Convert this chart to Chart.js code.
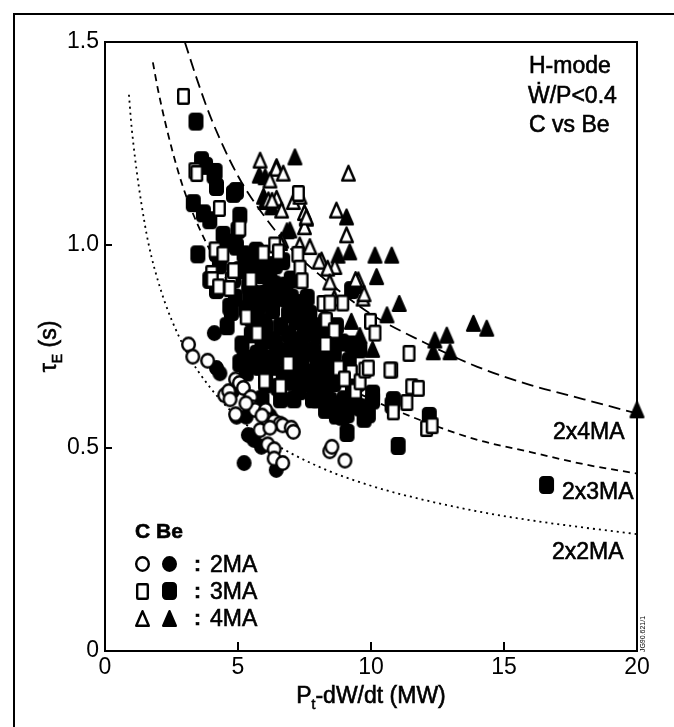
<!DOCTYPE html>
<html>
<head>
<meta charset="utf-8">
<title>tau_E vs P</title>
<script src="https://cdn.jsdelivr.net/npm/chart.js@4.4.0/dist/chart.umd.min.js"></script>
<style>
  html, body { margin: 0; padding: 0; background: #fff; }
  canvas { display: block; }
</style>
</head>
<body>
<canvas id="tauChart" width="674" height="727"></canvas>
<script>
// axis ticks
const xTickValues = [0, 5, 10, 15, 20];
const xTickLabels = ['0', '5', '10', '15', '20'];
const yTickValues = [0, 0.5, 1.0, 1.5];
const yTickLabels = ['0', '0.5', '1.0', '1.5'];

// scaling curves
const curve4X = [3.0, 3.5, 4, 5, 6, 7, 8, 10, 12, 14, 16, 18, 20];
const curve4Y = [1.50, 1.40, 1.31, 1.17, 1.07, 0.99, 0.93, 0.83, 0.76, 0.70, 0.655, 0.62, 0.585];
const curve3X = [1.8, 2, 2.5, 3, 4, 5, 6, 8, 10, 12, 14, 16, 18, 20];
const curve3Y = [1.45, 1.38, 1.24, 1.13, 0.98, 0.875, 0.80, 0.69, 0.62, 0.565, 0.52, 0.49, 0.46, 0.437];
const curve2X = [0.9, 1, 1.5, 2, 3, 4, 5, 6, 8, 10, 12, 14, 16, 18, 20];
const curve2Y = [1.37, 1.29, 1.05, 0.91, 0.745, 0.645, 0.575, 0.525, 0.455, 0.407, 0.372, 0.344, 0.322, 0.304, 0.288];

// C, 2MA (open circles)
const c2X = [3.14, 3.30, 3.86, 4.50, 4.65, 4.70, 4.91, 5.05, 5.20, 5.48, 4.91, 5.57, 5.64, 6.04, 6.08, 6.36,
  6.58, 6.68, 7.00, 7.08, 5.83, 6.12, 6.36, 6.36, 6.68, 8.45, 8.53, 9.02, 5.30, 5.90, 6.20];
const c2Y = [0.755, 0.725, 0.715, 0.630, 0.640, 0.620, 0.669, 0.660, 0.648, 0.625, 0.583, 0.600, 0.594, 0.594, 0.570, 0.566,
  0.560, 0.556, 0.550, 0.540, 0.544, 0.509, 0.497, 0.474, 0.463, 0.492, 0.503, 0.469, 0.610, 0.580, 0.550];

// Be, 2MA (filled circles)
const be2X = [4.11, 4.19, 4.32, 4.95, 5.31, 5.39, 5.88, 6.44, 5.23, 4.80, 5.60, 6.20];
const be2Y = [0.783, 0.697, 0.684, 0.577, 0.577, 0.532, 0.503, 0.446, 0.463, 0.640, 0.520, 0.580];

// C, 3MA (open squares)
const c3X = [2.95, 3.38, 4.30, 3.45, 5.07, 4.14, 4.43, 6.38, 6.52, 4.01, 4.75, 4.69, 4.03, 4.27, 4.83, 5.48,
  5.31, 5.72, 6.60, 7.25, 7.27, 7.33, 7.41, 8.20, 8.32, 8.45, 8.94, 8.62, 8.29, 8.78, 9.26, 9.00,
  9.42, 9.59, 9.77, 9.90, 9.98, 10.15, 10.78, 10.71, 11.43, 11.53, 11.78, 11.35, 10.84, 12.09, 12.30, 6.89,
  6.00, 5.95];
const c3Y = [1.366, 1.183, 1.090, 1.176, 1.041, 0.988, 0.977, 1.000, 0.983, 0.930, 0.914, 0.893, 0.915, 0.897, 0.937, 0.915,
  0.823, 0.783, 0.652, 0.977, 1.127, 0.943, 0.912, 0.856, 0.815, 0.857, 0.857, 0.789, 0.755, 0.697, 0.686, 0.670,
  0.640, 0.663, 0.692, 0.697, 0.812, 0.783, 0.692, 0.692, 0.733, 0.651, 0.647, 0.612, 0.589, 0.548, 0.555, 0.708,
  0.665, 0.980];

// Be, 3MA (filled squares)
const be3X = [3.42, 3.63, 4.14, 3.78, 4.10, 4.19, 4.83, 4.94, 3.32, 3.70, 3.94, 5.07, 5.00, 4.44, 4.59, 3.49,
  4.19, 5.69, 5.23, 4.94, 3.94, 5.07, 4.19, 4.69, 5.45, 4.83, 5.56, 5.88, 6.20, 4.75, 4.59, 5.15,
  5.23, 6.04, 5.72, 6.20, 6.04, 6.68, 6.36, 7.00, 6.76, 7.33, 7.17, 7.65, 7.97, 8.29, 7.33, 6.52,
  7.17, 7.49, 7.65, 7.97, 8.29, 7.00, 8.05, 8.45, 8.78, 8.29, 10.06, 9.90, 9.10, 9.42, 8.94, 9.10,
  10.06, 9.18, 9.26, 9.58, 8.62, 9.27, 10.79, 10.84, 12.19, 11.02, 16.60, 9.74, 5.07, 5.31, 6.04,
  5.50, 5.80, 6.00, 6.30, 6.60, 6.90, 7.20, 6.50, 6.90, 7.50, 7.80, 8.10, 8.40, 7.40, 6.80, 6.30,
  5.90, 5.50, 5.40, 6.10, 7.70, 8.00, 8.60, 7.10, 6.60, 5.90, 5.50, 6.20, 7.00, 7.60, 8.70, 8.90,
  5.30, 4.90, 4.30, 5.30, 7.30, 7.80, 8.30, 8.60, 9.00, 7.60, 8.90, 9.50, 7.90, 8.40, 9.60, 8.70,
  9.30, 6.10, 6.40, 6.70, 6.90, 7.30, 5.80, 6.50, 7.20, 5.60, 6.80, 7.20, 6.40, 5.90, 7.40, 8.00,
  8.30];
const be3Y = [1.304, 1.209, 1.180, 1.195, 1.172, 1.143, 1.126, 1.133, 1.103, 1.078, 1.061, 1.072, 1.037, 1.025, 1.006, 0.977,
  0.980, 0.986, 0.977, 0.996, 0.914, 0.938, 0.889, 0.848, 0.873, 0.915, 0.949, 0.926, 0.915, 0.835, 0.800, 0.755,
  0.720, 0.675, 0.732, 0.766, 0.800, 0.960, 0.903, 0.915, 0.869, 0.857, 0.812, 0.800, 0.777, 0.812, 0.766, 0.732,
  0.697, 0.732, 0.686, 0.709, 0.732, 0.663, 0.652, 0.617, 0.606, 0.594, 0.617, 0.583, 0.583, 0.606, 0.577, 0.537,
  0.634, 0.714, 0.755, 0.743, 0.732, 0.889, 0.606, 0.618, 0.579, 0.505, 0.409, 0.572, 0.709, 0.686, 0.657,
  0.820, 0.850, 0.880, 0.840, 0.800, 0.780, 0.750, 0.880, 0.830, 0.780, 0.740, 0.700, 0.670, 0.700, 0.720, 0.700,
  0.760, 0.780, 0.900, 0.950, 0.830, 0.620, 0.660, 0.620, 0.620, 0.620, 0.720, 0.870, 0.870, 0.870, 0.800, 0.760,
  0.960, 0.870, 0.950, 0.840, 0.640, 0.620, 0.650, 0.700, 0.620, 0.660, 0.690, 0.660, 0.670, 0.750, 0.600, 0.580,
  0.650, 0.720, 0.760, 0.680, 0.740, 0.710, 0.700, 0.650, 0.670, 0.880, 0.900, 0.840, 0.950, 0.810, 0.810, 0.800,
  0.780];

// C, 4MA (open triangles)
const c4X = [5.83, 6.44, 6.70, 6.14, 6.45, 6.64, 7.08, 7.50, 7.50, 8.70, 9.08, 9.15, 6.64, 7.32, 7.70, 8.14,
  8.64, 9.52, 9.70, 8.05, 8.37, 8.45, 8.62, 9.42, 9.74, 6.60, 6.28, 7.33, 7.57, 6.20];
const c4Y = [1.209, 1.189, 1.177, 1.111, 1.115, 1.086, 1.107, 1.080, 1.045, 1.086, 1.025, 1.177, 1.012, 1.000, 0.996, 0.963,
  0.947, 0.914, 0.869, 0.960, 0.943, 0.909, 0.869, 0.915, 0.880, 1.006, 1.110, 1.120, 1.069, 1.160];

// Be, 4MA (filled triangles)
const be4X = [7.14, 5.80, 6.02, 6.45, 6.02, 6.27, 7.57, 9.08, 6.95, 8.76, 9.20, 10.15, 10.78, 10.21, 11.06, 10.60,
  9.45, 12.40, 12.85, 12.34, 12.97, 13.85, 14.35, 20.00, 9.26, 9.58, 10.06, 5.96, 6.84];
const be4Y = [1.217, 1.172, 1.168, 1.193, 1.107, 1.094, 1.066, 1.069, 1.037, 0.975, 0.983, 0.975, 0.975, 0.922, 0.856, 0.828,
  0.900, 0.766, 0.778, 0.737, 0.737, 0.807, 0.795, 0.594, 0.812, 0.777, 0.743, 1.120, 1.035];

const FONT = '"Liberation Sans", Arial, Helvetica, "DejaVu Sans", sans-serif';

function pairs(xs, ys) {
  return xs.map((x, i) => ({ x: x, y: ys[i] }));
}

// marker bitmaps, used as point styles
function makeMarker(shape, filled) {
  let w = 15, h = 16;
  if (shape === 'square') { w = filled ? 15 : 13; h = filled ? 18 : 17; }
  if (shape === 'triangle') { w = 15; h = 17; }
  const c = document.createElement('canvas');
  c.width = w + 2;
  c.height = h + 2;
  const g = c.getContext('2d');
  const cx = c.width / 2, cy = c.height / 2;
  g.lineWidth = 2.4;
  g.lineJoin = 'round';
  g.strokeStyle = '#000';
  g.fillStyle = filled ? '#000' : '#fff';
  g.beginPath();
  if (shape === 'circle') {
    g.ellipse(cx, cy, w / 2 - 1.2, h / 2 - 1.2, 0, 0, Math.PI * 2);
  } else if (shape === 'square') {
    g.roundRect(cx - w / 2 + 1.2, cy - h / 2 + 1.2, w - 2.4, h - 2.4, filled ? 3 : 1);
  } else {
    g.moveTo(cx, cy - h / 2 + 1.2);
    g.lineTo(cx + w / 2 - 1.2, cy + h / 2 - 1.2);
    g.lineTo(cx - w / 2 + 1.2, cy + h / 2 - 1.2);
    g.closePath();
  }
  g.fill();
  g.stroke();
  return c;
}

const markers = {
  c2: makeMarker('circle', false),
  be2: makeMarker('circle', true),
  c3: makeMarker('square', false),
  be3: makeMarker('square', true),
  c4: makeMarker('triangle', false),
  be4: makeMarker('triangle', true)
};

function pointSet(label, xs, ys, marker) {
  return {
    label: label,
    data: pairs(xs, ys),
    pointStyle: marker,
    pointRadius: 7,
    pointHoverRadius: 7,
    clip: false
  };
}

function curveSet(label, xs, ys, dash) {
  return {
    label: label,
    data: pairs(xs, ys),
    showLine: true,
    pointRadius: 0,
    borderColor: '#000',
    borderWidth: 1.8,
    borderDash: dash,
    cubicInterpolationMode: 'monotone',
    fill: false
  };
}

// text with a slight stroke, to get the heavier printed look
function inkText(ctx, text, x, y) {
  ctx.fillText(text, x, y);
  ctx.strokeText(text, x, y);
}

// subscripted text helper
function drawSub(ctx, parts, x, y, size) {
  let total = 0;
  parts.forEach(p => {
    ctx.font = (p.sub ? Math.round(size * 0.62) : size) + 'px ' + FONT;
    p.w = ctx.measureText(p.t).width;
    total += p.w;
  });
  let cx = x - total / 2;
  parts.forEach(p => {
    ctx.font = (p.sub ? Math.round(size * 0.62) : size) + 'px ' + FONT;
    inkText(ctx, p.t, cx, p.sub ? y + size * 0.35 : y);
    cx += p.w;
  });
}

const decor = {
  id: 'decor',
  afterDraw(chart) {
    const ctx = chart.ctx;
    const a = chart.chartArea;
    const xs = chart.scales.x, ys = chart.scales.y;
    ctx.save();
    ctx.strokeStyle = '#000';
    ctx.fillStyle = '#000';

    // outer figure frame
    ctx.lineWidth = 2;
    ctx.beginPath();
    ctx.moveTo(14, 727);
    ctx.lineTo(14, 14);
    ctx.lineTo(674, 14);
    ctx.stroke();

    // plot box
    ctx.strokeRect(a.left, a.top, a.right - a.left, a.bottom - a.top);

    // inward ticks
    ctx.beginPath();
    xTickValues.slice(1, -1).forEach(v => {
      const px = Math.round(xs.getPixelForValue(v));
      ctx.moveTo(px, a.bottom);
      ctx.lineTo(px, a.bottom - 9);
    });
    yTickValues.slice(1, -1).forEach(v => {
      const py = Math.round(ys.getPixelForValue(v));
      ctx.moveTo(a.left, py);
      ctx.lineTo(a.left + 7, py);
    });
    ctx.stroke();

    ctx.lineWidth = 0.6;
    ctx.textBaseline = 'middle';
    ctx.textAlign = 'left';

    // axis titles
    drawSub(ctx, [{ t: 'P' }, { t: 't', sub: true }, { t: '-dW/dt (MW)' }], (a.left + a.right) / 2, 697, 23);
    ctx.save();
    ctx.translate(50, (a.top + a.bottom) / 2);
    ctx.rotate(-Math.PI / 2);
    drawSub(ctx, [{ t: '\u03C4' }, { t: 'E', sub: true }, { t: ' (s)' }], 0, 0, 23);
    ctx.restore();

    // condition text
    ctx.font = '23px ' + FONT;
    inkText(ctx, 'H-mode', 529, 67);
    inkText(ctx, '\u1E86/P<0.4', 528, 97);
    inkText(ctx, 'C vs Be', 529, 126);

    // curve labels
    inkText(ctx, '2x4MA', 553, 433);
    inkText(ctx, '2x3MA', 562, 493);
    inkText(ctx, '2x2MA', 552, 553);

    // legend block
    ctx.font = 'bold 21px ' + FONT;
    inkText(ctx, 'C', 135, 532);
    inkText(ctx, 'Be', 156, 532);
    const rows = [
      { open: markers.c2, full: markers.be2, text: '2MA', y: 564 },
      { open: markers.c3, full: markers.be3, text: '3MA', y: 591 },
      { open: markers.c4, full: markers.be4, text: '4MA', y: 618 }
    ];
    rows.forEach(r => {
      ctx.drawImage(r.open, Math.round(142 - r.open.width / 2), Math.round(r.y - r.open.height / 2));
      ctx.drawImage(r.full, Math.round(169 - r.full.width / 2), Math.round(r.y - r.full.height / 2));
      ctx.font = 'bold 21px ' + FONT;
      inkText(ctx, ':', 194, r.y + 1);
      ctx.font = '23px ' + FONT;
      inkText(ctx, r.text, 210, r.y + 2);
    });

    // figure id
    ctx.save();
    ctx.translate(643, 634);
    ctx.rotate(-Math.PI / 2);
    ctx.font = '7px ' + FONT;
    ctx.textAlign = 'center';
    ctx.fillText('JG90.621/1', 0, 0);
    ctx.restore();

    ctx.restore();
  }
};

new Chart(document.getElementById('tauChart'), {
  type: 'scatter',
  data: {
    datasets: [
      pointSet('C 3MA', c3X, c3Y, markers.c3),
      pointSet('C 4MA', c4X, c4Y, markers.c4),
      pointSet('C 2MA', c2X, c2Y, markers.c2),
      pointSet('Be 4MA', be4X, be4Y, markers.be4),
      pointSet('Be 2MA', be2X, be2Y, markers.be2),
      pointSet('Be 3MA', be3X, be3Y, markers.be3),
      curveSet('2x4MA', curve4X, curve4Y, [12, 6]),
      curveSet('2x3MA', curve3X, curve3Y, [7, 5]),
      curveSet('2x2MA', curve2X, curve2Y, [2, 4])
    ]
  },
  options: {
    responsive: false,
    animation: false,
    devicePixelRatio: 1,
    layout: {
      padding: { top: 42, right: 37, left: 0, bottom: 0 }
    },
    plugins: {
      legend: { display: false },
      tooltip: { enabled: false }
    },
    scales: {
      x: {
        type: 'linear',
        min: 0,
        max: 20,
        grid: { display: false, drawTicks: false },
        border: { display: false },
        afterBuildTicks: function (scale) {
          scale.ticks = xTickValues.map(v => ({ value: v }));
        },
        afterFit: function (scale) {
          scale.height = 76;
        },
        ticks: {
          padding: 3,
          color: '#000',
          maxRotation: 0,
          font: { family: FONT, size: 23 },
          callback: function (value, index) {
            return xTickLabels[index];
          }
        }
      },
      y: {
        type: 'linear',
        min: 0,
        max: 1.5,
        grid: { display: false, drawTicks: false },
        border: { display: false },
        afterBuildTicks: function (scale) {
          scale.ticks = yTickValues.map(v => ({ value: v }));
        },
        afterFit: function (scale) {
          scale.width = 105;
        },
        ticks: {
          padding: 6,
          color: '#000',
          font: { family: FONT, size: 23 },
          callback: function (value, index) {
            return yTickLabels[index];
          }
        }
      }
    }
  },
  plugins: [decor]
});
</script>
</body>
</html>
